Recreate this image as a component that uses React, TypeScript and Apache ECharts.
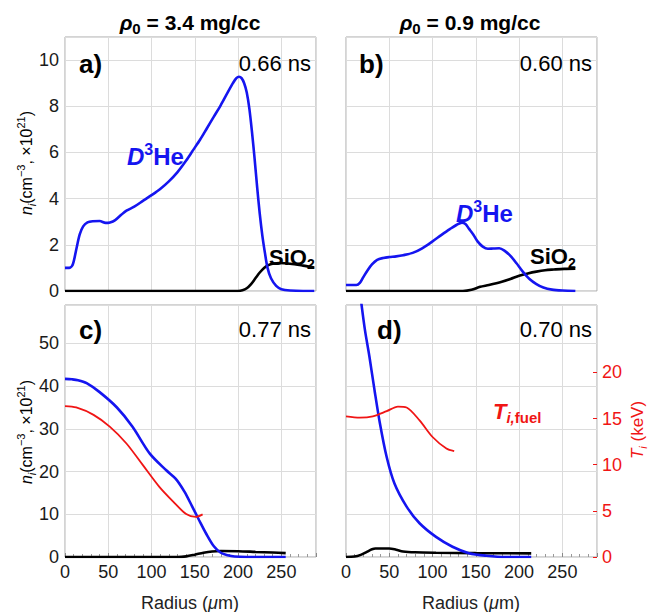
import React, { useEffect, useRef } from "react";
import * as echarts from "echarts";

// ---------- data ----------
// Panel a) rho0 = 3.4 mg/cc, 0.66 ns
const aD3HeR = [0, 5, 9, 13, 17, 21, 26, 32, 40, 47, 52, 58, 65, 71, 80, 90, 100, 110, 120, 130, 140, 148, 156, 164, 172, 180, 188, 194, 198, 201, 204, 207, 210, 213, 216, 219, 222, 225, 228, 231, 234, 238, 244, 250, 260, 275, 288];
const aD3HeN = [1.0, 1.0, 1.15, 1.8, 2.45, 2.8, 2.97, 3.02, 3.03, 2.95, 2.97, 3.07, 3.3, 3.48, 3.65, 3.9, 4.15, 4.42, 4.75, 5.15, 5.65, 6.1, 6.55, 7.05, 7.55, 8.05, 8.6, 9.0, 9.22, 9.28, 9.22, 9.0, 8.6, 7.9, 6.9, 5.75, 4.5, 3.35, 2.4, 1.65, 1.0, 0.55, 0.22, 0.08, 0.02, 0, 0];
const aSiO2R = [0, 200, 205, 210, 215, 220, 225, 230, 235, 240, 248, 260, 275, 288];
const aSiO2N = [0, 0, 0.03, 0.12, 0.3, 0.55, 0.8, 1.0, 1.12, 1.18, 1.21, 1.18, 1.1, 1.02];

// Panel b) rho0 = 0.9 mg/cc, 0.60 ns
const bD3HeR = [0, 12, 16, 20, 25, 30, 36, 43, 50, 58, 66, 77, 88, 100, 110, 120, 128, 134, 138, 142, 147, 152, 158, 164, 170, 177, 183, 190, 197, 204, 212, 220, 228, 238, 250, 265];
const bD3HeN = [0.26, 0.26, 0.35, 0.6, 0.9, 1.15, 1.35, 1.43, 1.47, 1.5, 1.55, 1.65, 1.85, 2.15, 2.42, 2.68, 2.87, 2.96, 2.9, 2.7, 2.45, 2.15, 1.92, 1.83, 1.84, 1.85, 1.75, 1.52, 1.2, 0.85, 0.52, 0.3, 0.15, 0.06, 0.02, 0];
const bSiO2R = [0, 135, 145, 155, 165, 180, 190, 200, 210, 220, 230, 240, 252, 265];
const bSiO2N = [0, 0, 0.05, 0.18, 0.26, 0.4, 0.52, 0.66, 0.76, 0.84, 0.9, 0.93, 0.96, 0.97];

// Panel c) rho0 = 3.4 mg/cc, 0.77 ns
const cD3HeR = [0, 8, 15, 25, 40, 60, 78, 98, 117, 128, 138, 147, 155, 163, 172, 180, 188, 196, 210, 230, 255];
const cD3HeN = [41.7, 41.6, 41.4, 40.7, 38.6, 35.0, 30.5, 24.2, 20.3, 18.3, 15.3, 11.8, 8.6, 5.5, 2.5, 1.0, 0.4, 0.1, 0, 0, 0];
const cSiO2R = [0, 130, 140, 150, 160, 170, 180, 200, 220, 240, 255];
const cSiO2N = [0, 0, 0.15, 0.55, 1.0, 1.3, 1.4, 1.35, 1.2, 1.05, 0.9];
const cTiR = [0, 13, 33, 52, 71, 90, 109, 125, 140, 151, 159];
const cTiKeV = [16.35, 16.2, 15.4, 14.1, 12.3, 9.95, 7.6, 6.0, 4.65, 4.35, 4.62];

// Panel d) rho0 = 0.9 mg/cc, 0.70 ns
const dD3HeR = [0, 5, 10, 15, 18, 22, 27, 33, 39, 47, 56, 70, 85, 104, 123, 142, 162, 185, 214];
const dD3HeN = [95, 84, 74, 64, 59, 53, 47, 39, 31.5, 23.4, 17.2, 11.8, 7.9, 4.7, 2.4, 0.9, 0.3, 0, 0];
const dSiO2R = [0, 10, 17, 24, 30, 34, 50, 58, 66, 80, 104, 150, 214];
const dSiO2N = [0, 0.1, 0.5, 1.2, 1.8, 2.0, 2.0, 1.7, 1.3, 1.1, 1.0, 0.9, 0.86];
const dTiR = [0, 16, 31, 47, 60, 70, 85, 100, 116, 125];
const dTiKeV = [15.24, 15.1, 15.24, 15.8, 16.3, 16.2, 14.8, 13.0, 11.75, 11.46];

// axes
const radiusMax = 290;
const radiusStep = 50;
const topDensityMax = 11;
const topDensityStep = 2;
const bottomDensityMax = 59;
const bottomDensityStep = 10;
const tempMax = 27.3;
const tempStep = 5;
const tempTicks = [0, 5, 10, 15, 20];

const panelTimes = ["0.66 ns", "0.60 ns", "0.77 ns", "0.70 ns"];
const panelTags = ["a)", "b)", "c)", "d)"];
const columnTitles = ["3.4 mg/cc", "0.9 mg/cc"];

const zip = (r: number[], v: number[]) => r.map((x, i) => [x, v[i]]);

const FONT = "'Liberation Sans', Arial, Helvetica, sans-serif";
const BLUE = "#1515f0";
const RED = "#f01515";
const BLACK = "#000000";
const GRID_LINE = "#dcdcdc";
const FRAME = "#a8a8a8";

export default function App() {
  const ref = useRef<HTMLDivElement>(null);

  useEffect(() => {
    if (!ref.current) return;
    const chart = echarts.init(ref.current, null, { renderer: "svg" });

    const grids = [
      { left: 65, top: 37, width: 251, height: 254 },
      { left: 346, top: 37, width: 251, height: 254 },
      { left: 65, top: 305, width: 251, height: 252 },
      { left: 346, top: 305, width: 251, height: 252 },
    ].map((g) => ({ ...g, show: true, borderColor: FRAME, borderWidth: 1, backgroundColor: "transparent" }));

    const xAxis = [0, 1, 2, 3].map((i) => ({
      type: "value",
      gridIndex: i,
      min: 0,
      max: radiusMax,
      interval: radiusStep,
      axisLine: { show: false },
      axisTick: { show: i >= 2, inside: true, length: 4, lineStyle: { color: "#888" } },
      minorTick: { show: i >= 2, splitNumber: 5, length: 3, lineStyle: { color: "#999" } },
      splitLine: { show: true, lineStyle: { color: GRID_LINE, width: 1 } },
      axisLabel: {
        show: i >= 2,
        showMaxLabel: false,
        fontSize: 18,
        fontFamily: FONT,
        color: "#1a1a1a",
        margin: 6,
      },
    }));

    const yBase = (grid: number, max: number, step: number, labels: boolean) => ({
      type: "value",
      gridIndex: grid,
      min: 0,
      max,
      interval: step,
      axisLine: { show: false },
      axisTick: { show: false },
      splitLine: { show: true, lineStyle: { color: GRID_LINE, width: 1 } },
      axisLabel: {
        show: labels,
        showMaxLabel: false,
        fontSize: 18,
        fontFamily: FONT,
        color: "#1a1a1a",
        margin: 6,
      },
    });

    const yAxis: any[] = [
      yBase(0, topDensityMax, topDensityStep, true), // 0: a
      yBase(1, topDensityMax, topDensityStep, false), // 1: b
      yBase(2, bottomDensityMax, bottomDensityStep, true), // 2: c
      { type: "value", gridIndex: 2, min: 0, max: tempMax, show: false, position: "right", splitLine: { show: false } }, // 3: c temp
      yBase(3, bottomDensityMax, bottomDensityStep, false), // 4: d
      {
        type: "value",
        gridIndex: 3,
        position: "right",
        min: 0,
        max: tempMax,
        interval: tempStep,
        axisLine: { show: false },
        axisTick: { show: true, inside: true, length: 4, customValues: tempTicks, lineStyle: { color: RED } },
        splitLine: { show: false },
        axisLabel: {
          customValues: tempTicks,
          fontSize: 18,
          fontFamily: FONT,
          color: RED,
          margin: 5,
        },
      }, // 5: d temp
    ];

    const line = (name: string, xi: number, yi: number, data: number[][], color: string, width: number, z: number) => ({
      name,
      type: "line",
      xAxisIndex: xi,
      yAxisIndex: yi,
      data,
      showSymbol: false,
      symbol: "none",
      smooth: 0.3,
      clip: true,
      z,
      lineStyle: { color, width },
      emphasis: { disabled: true },
    });

    const series = [
      line("a SiO2", 0, 0, zip(aSiO2R, aSiO2N), BLACK, 2.6, 2),
      line("a D3He", 0, 0, zip(aD3HeR, aD3HeN), BLUE, 2.6, 3),
      line("b SiO2", 1, 1, zip(bSiO2R, bSiO2N), BLACK, 2.6, 2),
      line("b D3He", 1, 1, zip(bD3HeR, bD3HeN), BLUE, 2.6, 3),
      line("c SiO2", 2, 2, zip(cSiO2R, cSiO2N), BLACK, 2.6, 2),
      line("c D3He", 2, 2, zip(cD3HeR, cD3HeN), BLUE, 2.6, 3),
      line("c Ti", 2, 3, zip(cTiR, cTiKeV), RED, 1.8, 4),
      line("d SiO2", 3, 4, zip(dSiO2R, dSiO2N), BLACK, 2.6, 2),
      line("d D3He", 3, 4, zip(dD3HeR, dD3HeN), BLUE, 2.6, 3),
      line("d Ti", 3, 5, zip(dTiR, dTiKeV), RED, 1.8, 4),
    ];

    const txt = (x: number, y: number, text: string, style: any, extra: any = {}) => ({
      type: "text",
      x,
      y,
      z: 100,
      ...extra,
      style: { text, fontFamily: FONT, fill: "#000", verticalAlign: "middle", ...style },
    });

    const supRich = (size: number, color: string, weight: string, k = 0.62) => ({
      b: { fontSize: size, fontWeight: weight, fill: color, fontFamily: FONT, lineHeight: size + 6 },
      bi: { fontSize: size, fontWeight: weight, fontStyle: "italic", fill: color, fontFamily: FONT, lineHeight: size + 6 },
      sup: { fontSize: Math.round(size * k), fontWeight: weight, fill: color, fontFamily: FONT, lineHeight: Math.round(size * k) + 1, verticalAlign: "top" },
      sub: { fontSize: Math.round(size * k), fontWeight: weight, fill: color, fontFamily: FONT, lineHeight: Math.round(size * k) + 1, verticalAlign: "bottom" },
      subi: { fontSize: Math.round(size * k), fontWeight: weight, fontStyle: "italic", fill: color, fontFamily: FONT, lineHeight: Math.round(size * k) + 1, verticalAlign: "bottom" },
    });

    const yName = "{ni|n}{subi|i}{r|(cm}{sup|−3}{r|, ×10}{sup|21}{r|)}";
    const yNameRich = {
      ...supRich(16, "#000", "normal", 0.7),
      ni: { fontSize: 16, fontStyle: "italic", fill: "#000", fontFamily: FONT, lineHeight: 22 },
      r: { fontSize: 16, fill: "#000", fontFamily: FONT, lineHeight: 22 },
    };
    const xNameRich = {
      r: { fontSize: 18, fill: "#222", fontFamily: FONT },
      mi: { fontSize: 18, fontStyle: "italic", fill: "#222", fontFamily: FONT },
    };

    const graphic: any[] = [
      // column titles
      txt(190, 22, `{bi|ρ}{sub|0}{b| = ${columnTitles[0]}}`, { align: "center", rich: supRich(21, "#000", "bold", 0.72) }),
      txt(470, 22, `{bi|ρ}{sub|0}{b| = ${columnTitles[1]}}`, { align: "center", rich: supRich(21, "#000", "bold", 0.72) }),
      // panel tags
      txt(79, 64, panelTags[0], { fontSize: 26, fontWeight: "bold" }),
      txt(359, 64, panelTags[1], { fontSize: 26, fontWeight: "bold" }),
      txt(79, 330, panelTags[2], { fontSize: 26, fontWeight: "bold" }),
      txt(377, 330, panelTags[3], { fontSize: 26, fontWeight: "bold" }),
      // times
      txt(311, 63, panelTimes[0], { fontSize: 22, align: "right" }),
      txt(592, 63, panelTimes[1], { fontSize: 22, align: "right" }),
      txt(311, 329, panelTimes[2], { fontSize: 22, align: "right" }),
      txt(592, 329, panelTimes[3], { fontSize: 22, align: "right" }),
      // species labels
      txt(127, 156, "{bi|D}{sup|3}{b|He}", { rich: supRich(24, BLUE, "bold", 0.66) }),
      txt(456, 213, "{bi|D}{sup|3}{b|He}", { rich: supRich(24, BLUE, "bold", 0.66) }),
      txt(269, 257, "{b|SiO}{sub|2}", { rich: supRich(22, "#000", "bold") }),
      txt(530, 256, "{b|SiO}{sub|2}", { rich: supRich(22, "#000", "bold") }),
      txt(493, 411, "{bi|T}{subi|i,}{sub|fuel}", { rich: supRich(22, RED, "bold", 0.7) }),
      // y-axis names
      txt(26, 163, yName, { align: "center", rich: yNameRich }, { rotation: Math.PI / 2 }),
      txt(26, 432, yName, { align: "center", rich: yNameRich }, { rotation: Math.PI / 2 }),
      // right axis name
      txt(637, 430, "{ti|T}{subi|i}{r| (keV)}", {
        align: "center",
        rich: {
          ...supRich(17, RED, "normal"),
          ti: { fontSize: 17, fontStyle: "italic", fill: RED, fontFamily: FONT, lineHeight: 22 },
          r: { fontSize: 17, fill: RED, fontFamily: FONT, lineHeight: 22 },
        },
      }, { rotation: Math.PI / 2 }),
      // x-axis names
      txt(190, 603, "{r|Radius (}{mi|μ}{r|m)}", { align: "center", rich: xNameRich }),
      txt(471, 603, "{r|Radius (}{mi|μ}{r|m)}", { align: "center", rich: xNameRich }),
    ];

    chart.setOption({
      animation: false,
      backgroundColor: "#ffffff",
      textStyle: { fontFamily: FONT },
      grid: grids,
      xAxis,
      yAxis,
      series,
      graphic,
    } as any);

    return () => chart.dispose();
  }, []);

  return (
    <div
      ref={ref}
      style={{ position: "absolute", left: 0, top: 0, width: 650, height: 612 }}
    />
  );
}
